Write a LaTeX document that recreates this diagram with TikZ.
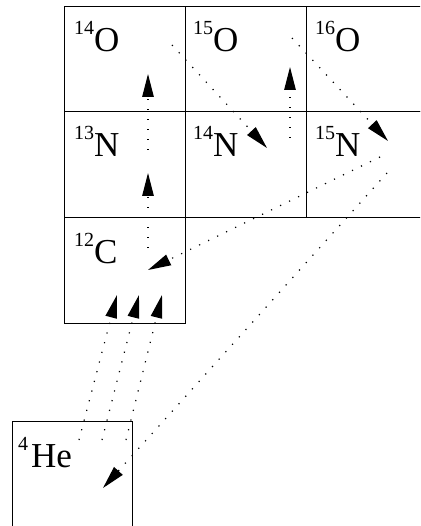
\documentclass[tikz,border=0pt]{standalone}
\usepackage{fontspec}
\setmainfont{Liberation Serif}
\usetikzlibrary{arrows.meta}
% mass number as a raised superscript in front of the element symbol
\newcommand\isolabel[2]{\raisebox{17pt}{\fontsize{20}{20}\selectfont #1}\fontsize{35}{35}\selectfont #2}
\begin{document}
\begin{tikzpicture}[x=1pt,y=-1pt,
  cell/.style={draw, line width=0.8pt, minimum width=121pt, minimum height=105.5pt,
               anchor=north west, inner sep=0pt},
  iso/.style={anchor=base west, inner sep=0pt},
  flow/.style={line width=1.2pt, dash pattern=on 1.2pt off 8.8pt,
               -{Triangle[length=23pt,width=11.5pt]}}]
\useasboundingbox (0,0) rectangle (420,526);
\clip (0,0) rectangle (420,526);

% chart cells
\node[cell] (o14) at (64,6) {};
\node[cell] (o15) at (185,6) {};
\node[cell] (o16) at (306,6) {};
\node[cell] (n13) at (64,111.5) {};
\node[cell] (n14) at (185,111.5) {};
\node[cell] (n15) at (306,111.5) {};
\node[cell] (c12) at (64,217) {};
\node[cell, minimum width=120pt, minimum height=130pt] (he4) at (12,421) {};

% isotope labels
\node[iso] (lo14) at (74,52)  {\isolabel{14}{O}};
\node[iso] (lo15) at (193,52) {\isolabel{15}{O}};
\node[iso] (lo16) at (315,52) {\isolabel{16}{O}};
\node[iso] (ln13) at (74,157) {\isolabel{13}{N}};
\node[iso] (ln14) at (193,157){\isolabel{14}{N}};
\node[iso] (ln15) at (315,157){\isolabel{15}{N}};
\node[iso] (lc12) at (74,263) {\isolabel{12}{C}};
\node[iso] (lhe4) at (18,467) {\isolabel{4\hspace{3pt}}{He}};

% start and end points of the reaction paths
\coordinate (pc) at (148,248);  \coordinate (pn) at (148,173);
\coordinate (qn) at (148,150);  \coordinate (qo) at (148,74);
\coordinate (ro) at (172,45);   \coordinate (rn) at (267,148);
\coordinate (sn) at (290,138);  \coordinate (so) at (290,67);
\coordinate (to) at (292,38);   \coordinate (tn) at (388,141);
\coordinate (un) at (380,157);  \coordinate (uc) at (148,270);
\coordinate (vn) at (387,173);  \coordinate (vh) at (103,488);
\coordinate (h1) at (79,440);   \coordinate (k1) at (117,295);
\coordinate (h2) at (102,440);  \coordinate (k2) at (139,295);
\coordinate (h3) at (126,440);  \coordinate (k3) at (162,295);

% CNO cycle
\draw[flow] (pc) -- (pn);
\draw[flow] (qn) -- (qo);
\draw[flow] (ro) -- (rn);
\draw[flow] (sn) -- (so);
\draw[flow] (to) -- (tn);
\draw[flow] (un) -- (uc);
\draw[flow] (vn) -- (vh);

% triple alpha
\draw[flow] (h1) -- (k1);
\draw[flow] (h2) -- (k2);
\draw[flow] (h3) -- (k3);
\end{tikzpicture}
\end{document}
